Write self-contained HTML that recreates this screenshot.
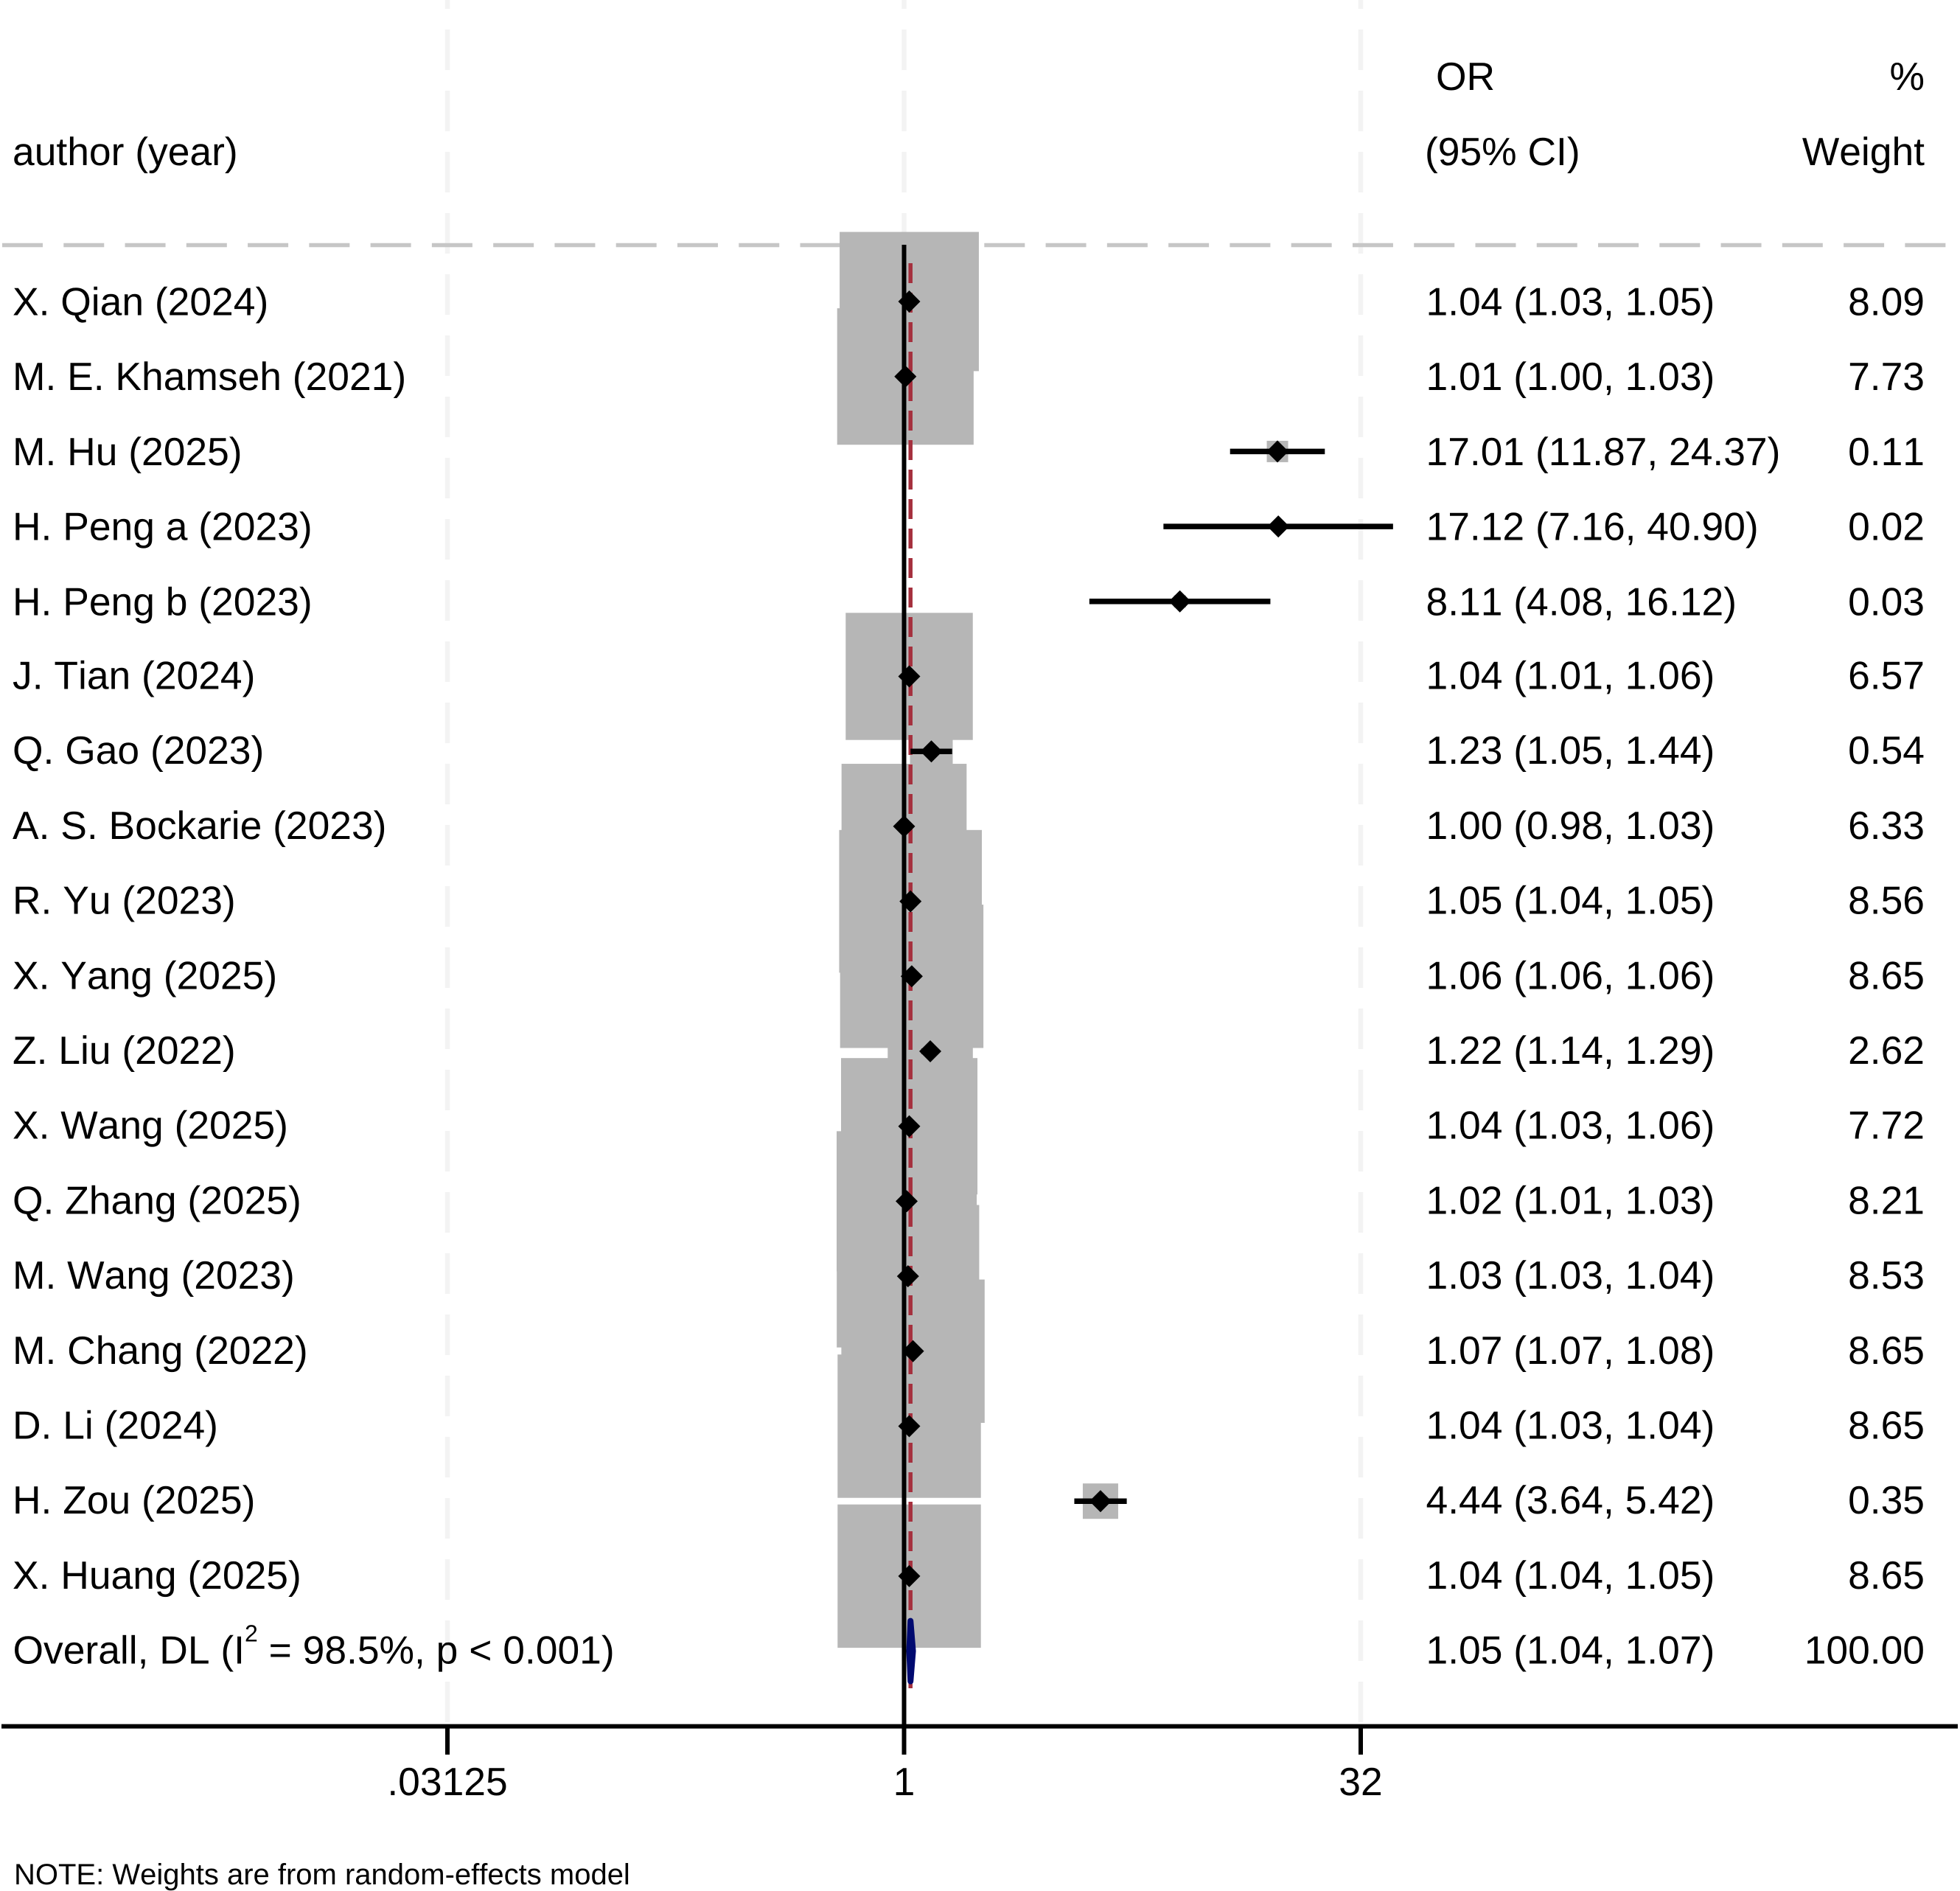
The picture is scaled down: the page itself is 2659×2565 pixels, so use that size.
<!DOCTYPE html>
<html lang="en">
<head>
<meta charset="utf-8">
<title>Forest plot</title>
<style>
html,body{margin:0;padding:0;background:#fff;}
svg{display:block;}
text{font-family:"Liberation Sans",Arial,sans-serif;fill:#000;text-rendering:geometricPrecision;font-kerning:none;}
</style>
</head>
<body>
<svg id="chart" xmlns="http://www.w3.org/2000/svg" width="2659" height="2565" viewBox="0 0 2659 2565">
<rect x="0" y="0" width="2659" height="2565" fill="#ffffff"/>
<text x="1948" y="122" font-size="53.4">OR</text>
<text x="2611" y="122" font-size="53.4" text-anchor="end">%</text>
<text x="17" y="224" font-size="53.4">author (year)</text>
<text x="1933" y="224" font-size="53.4">(95% CI)</text>
<text x="2611" y="224" font-size="53.4" text-anchor="end">Weight</text>
<text x="17.5" y="2256.5" font-size="53.4">Overall, DL (I<tspan dy="-30" font-size="32">2</tspan><tspan dy="30"> = 98.5%, p &lt; 0.001)</tspan></text>
<text x="19" y="2556" font-size="40">NOTE: Weights are from random-effects model</text>
</svg>
<script>
const authors = ["X. Qian (2024)", "M. E. Khamseh (2021)", "M. Hu (2025)", "H. Peng a (2023)", "H. Peng b (2023)", "J. Tian (2024)", "Q. Gao (2023)", "A. S. Bockarie (2023)", "R. Yu (2023)", "X. Yang (2025)", "Z. Liu (2022)", "X. Wang (2025)", "Q. Zhang (2025)", "M. Wang (2023)", "M. Chang (2022)", "D. Li (2024)", "H. Zou (2025)", "X. Huang (2025)"];
const orValues = [1.04, 1.01, 17.01, 17.12, 8.11, 1.04, 1.23, 1.00, 1.05, 1.06, 1.22, 1.04, 1.02, 1.03, 1.07, 1.04, 4.44, 1.04];
const ciLower = [1.03, 1.00, 11.87, 7.16, 4.08, 1.01, 1.05, 0.98, 1.04, 1.06, 1.14, 1.03, 1.01, 1.03, 1.07, 1.03, 3.64, 1.04];
const ciUpper = [1.05, 1.03, 24.37, 40.90, 16.12, 1.06, 1.44, 1.03, 1.05, 1.06, 1.29, 1.06, 1.03, 1.04, 1.08, 1.04, 5.42, 1.05];
const weights = [8.09, 7.73, 0.11, 0.02, 0.03, 6.57, 0.54, 6.33, 8.56, 8.65, 2.62, 7.72, 8.21, 8.53, 8.65, 8.65, 0.35, 8.65];
const overallOr = 1.05;
const overallLower = 1.04;
const overallUpper = 1.07;
const overallWeight = 100;
const tickValues = [0.03125, 1, 32];
const tickLabels = [".03125", "1", "32"];

const NS = "http://www.w3.org/2000/svg";
const svg = document.getElementById("chart");
const xScale = function (v) { return 1226.5 + Math.log2(v) * 123.9; };
const yScale = function (i) { return 409 + i * 101.7; };
const boxSide = function (w) { return 75.9 * Math.pow(w, 0.436); };
const textBase = function (i) { return yScale(i) + (i < 5 ? 18.5 : 17); };
const AXIS_Y = 2341.6;
const FONT = 53.4;
const firstText = svg.querySelector("text");

function mk(tag, attrs, parent) {
  const el = document.createElementNS(NS, tag);
  for (const k in attrs) el.setAttribute(k, attrs[k]);
  (parent || svg).appendChild(el);
  return el;
}

function group(name) {
  const g = document.createElementNS(NS, "g");
  
  
  svg.insertBefore(g, firstText);
  return g;
}

// Pale reference lines at each axis tick
const refGroup = group("reference-lines");
tickValues.forEach(function (t) {
  const el = mk("line", { x1: xScale(t), x2: xScale(t), y1: 0, y2: AXIS_Y, stroke: "#f3f3f3", "stroke-width": 6.5, "stroke-dasharray": "55 28", "stroke-dashoffset": 43 }, refGroup);
  
  
});

// Header separator
const sep = mk("line", { x1: 3, x2: 2640, y1: 332.5, y2: 332.5, stroke: "#c6c6c6", "stroke-width": 5.5, "stroke-dasharray": "55 28.27" });



// Weight boxes
const boxGroup = group("weight-boxes");
svg.insertBefore(sep, boxGroup);
weights.forEach(function (w, i) {
  const s = boxSide(w);
  const el = mk("rect", { x: xScale(orValues[i]) - s / 2, y: yScale(i) - s / 2, width: s, height: s, fill: "#b6b6b6" }, boxGroup);
  
  
});

// Overall effect dashed line
const overallLine = mk("line", { x1: xScale(overallOr), x2: xScale(overallOr), y1: 357, y2: 2290, stroke: "#a5303e", "stroke-width": 5.5, "stroke-dasharray": "27 13" });


svg.insertBefore(overallLine, firstText);

// Null line
const nullLine = mk("line", { x1: xScale(1), x2: xScale(1), y1: 332, y2: AXIS_Y, stroke: "#000", "stroke-width": 6 });


svg.insertBefore(nullLine, firstText);

// Confidence intervals and point estimates
const ciGroup = group("confidence-intervals");
const pointGroup = group("point-estimates");
orValues.forEach(function (v, i) {
  const y = yScale(i);
  const ci = mk("line", { x1: xScale(ciLower[i]), x2: xScale(ciUpper[i]), y1: y, y2: y, stroke: "#000", "stroke-width": 7.5 }, ciGroup);
  
  
  const x = xScale(v);
  const d = mk("polygon", { points: (x - 15) + "," + y + " " + x + "," + (y - 15) + " " + (x + 15) + "," + y + " " + x + "," + (y + 15), fill: "#000" }, pointGroup);
  
  
});

// Overall diamond
const oy = yScale(authors.length);
const ovr = mk("polygon", {
  points: xScale(overallLower) + "," + oy + " " + xScale(overallOr) + "," + (oy - 41) + " " + xScale(overallUpper) + "," + oy + " " + xScale(overallOr) + "," + (oy + 41),
  fill: "#000a70", stroke: "#000a70", "stroke-width": 8, "stroke-linejoin": "round"
});


svg.insertBefore(ovr, firstText);

// Axis
const axis = mk("line", { x1: 2, x2: 2656, y1: AXIS_Y, y2: AXIS_Y, stroke: "#000", "stroke-width": 6 });


tickValues.forEach(function (t, i) {
  const tick = mk("line", { x1: xScale(t), x2: xScale(t), y1: AXIS_Y, y2: 2380, stroke: "#000", "stroke-width": 6 });
  
  
  const lab = mk("text", { x: xScale(t), y: 2435, "font-size": FONT, "text-anchor": "middle" });
  lab.textContent = tickLabels[i];
  
  
});

// Table text
const fmtCi = function (o, l, u) { return o.toFixed(2) + " (" + l.toFixed(2) + ", " + u.toFixed(2) + ")"; };
authors.forEach(function (a, i) {
  const base = textBase(i);
  const t1 = mk("text", { x: 17, y: base, "font-size": FONT });
  t1.textContent = a;
  
  
  const t2 = mk("text", { x: 1934.5, y: base, "font-size": FONT });
  t2.textContent = fmtCi(orValues[i], ciLower[i], ciUpper[i]);
  
  
  const t3 = mk("text", { x: 2611, y: base, "font-size": FONT, "text-anchor": "end" });
  t3.textContent = weights[i].toFixed(2);
  
  
});
const ot = mk("text", { x: 1934.5, y: oy + 17, "font-size": FONT });
ot.textContent = fmtCi(overallOr, overallLower, overallUpper);


const ow = mk("text", { x: 2611, y: oy + 17, "font-size": FONT, "text-anchor": "end" });
ow.textContent = overallWeight.toFixed(2);


</script>
</body>
</html>
